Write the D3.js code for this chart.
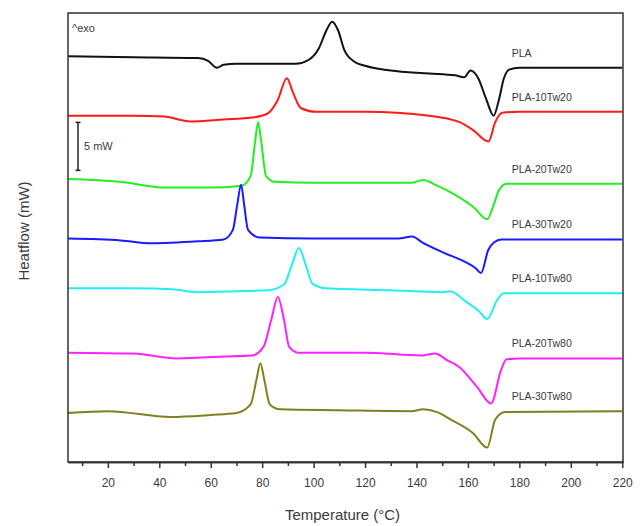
<!DOCTYPE html>
<html>
<head>
<meta charset="utf-8">
<script src="https://cdn.jsdelivr.net/npm/d3@7/dist/d3.min.js"></script>
<title>DSC curves</title>
<style>
    body { margin: 0; background: #fff; }
    text { font-family: "Liberation Sans", Arial, sans-serif; fill: #3a3a3a; }
    .curve { fill: none; stroke-width: 2; stroke-linejoin: round; }
</style>
</head>
<body>
<svg width="640" height="526"></svg>

<script>
    // sample names, top to bottom
    const sampleNames = ["PLA", "PLA-10Tw20", "PLA-20Tw20", "PLA-30Tw20", "PLA-10Tw80", "PLA-20Tw80", "PLA-30Tw80"];
    const lineColors = ["#111111", "#ff1a1a", "#22ee22", "#1a1aff", "#22f0f0", "#ff22ff", "#808020"];

    // [temperature °C, heat flow mW (curves shifted vertically)]
    const pla = [[4.5,42.3],[30,42.2],[55,42.1],[59,41.8],[62.4,41.1],[65,41.4],[70,41.5],[93,41.5],[98,41.9],[102,43.1],[105,45.0],[107.2,45.9],[109.5,45.0],[112,42.9],[116,41.7],[120,41.3],[130,40.8],[145,40.5],[155,40.3],[158.5,40.1],[161,40.8],[164,40.0],[167,37.9],[170,36.1],[172,37.7],[174,40.0],[176,40.9],[180,41.1],[220,41.1]];
    const pla10Tw20 = [[4.5,36.1],[30,36.1],[42,36.0],[52,35.5],[65,35.7],[76,35.9],[82,36.3],[86,37.7],[89.6,40.0],[92,38.5],[95,36.9],[101,36.5],[120,36.5],[145,36.1],[152,35.8],[157,35.4],[162,34.6],[168,33.4],[170.6,35.4],[173.3,36.4],[180,36.5],[220,36.5]];
    const pla20Tw20 = [[4.5,29.5],[25,29.2],[42,28.6],[60,28.6],[72,28.8],[75.5,29.8],[77.3,33.5],[78.4,35.4],[79.6,33.5],[81.5,29.8],[85,29.2],[100,29.1],[138,29.1],[142.6,29.4],[148,28.8],[154,28.0],[162,26.6],[167.5,25.3],[170,26.8],[172,28.3],[175,29.0],[220,29.0]];
    const pla30Tw20 = [[4.5,23.3],[25,23.1],[37,22.8],[55,23.0],[65,23.2],[68.6,24.2],[70.3,26.8],[71.8,28.9],[73,26.8],[74.5,24.2],[79,23.4],[100,23.3],[133,23.3],[138.3,23.5],[142.2,22.9],[150.7,21.8],[159.3,20.8],[163,20.2],[165.1,19.7],[167.9,22.1],[170.2,22.9],[173,23.2],[220,23.2]];
    const pla10Tw80 = [[4.5,18.1],[30,18.1],[45,18.0],[55,17.7],[70,17.8],[82,17.9],[88.5,18.5],[91.5,20.5],[94.3,22.3],[97,20.5],[99.5,18.6],[105,18.1],[130,17.9],[150,17.7],[153,17.8],[159.3,16.7],[164,15.8],[167.5,14.9],[171.4,16.9],[174,17.6],[220,17.6]];
    const pla20Tw80 = [[4.5,11.4],[30,11.3],[47,10.8],[65,11.0],[76,11.1],[80.5,12.0],[83.5,14.8],[86.1,17.2],[88.5,14.8],[90.5,12.0],[94,11.4],[120,11.4],[142,11.1],[147.2,11.3],[152,10.6],[156.6,9.9],[163.6,7.8],[169,6.1],[172.9,9.6],[175,10.7],[180,10.8],[220,10.8]];
    const pla30Tw80 = [[4.5,5.1],[20,5.3],[44.5,4.7],[60,4.9],[70,5.1],[75.5,6.0],[77.8,8.6],[79.3,10.3],[80.8,8.6],[83,6.0],[87,5.5],[110,5.4],[138,5.3],[142.6,5.5],[148,5.2],[153.5,4.4],[162,3.0],[167.5,1.5],[170.6,4.4],[174.5,5.2],[220,5.3]];
    const seriesValues = [pla, pla10Tw20, pla20Tw20, pla30Tw20, pla10Tw80, pla20Tw80, pla30Tw80];

    const xTicks = [20, 40, 60, 80, 100, 120, 140, 160, 180, 200, 220];
    const xMinorTicks = [10, 30, 50, 70, 90, 110, 130, 150, 170, 190, 210];
    const scaleBar = [30.4, 35.4];   // 5 mW

    const width = 640;
    const height = 526;
    const margin = {top: 13, right: 17, bottom: 64, left: 68};
    const plotW = width - margin.left - margin.right;
    const plotH = height - margin.top - margin.bottom;

    const x = d3.scaleLinear().domain([4.5, 220.3]).range([0, plotW]);
    const y = d3.scaleLinear().domain([0, 46.8]).range([plotH, 0]);

    const svg = d3.select("svg");
    const g = svg.append("g").attr("transform", `translate(${margin.left},${margin.top})`);

    // curves
    const line = d3.line()
        .x(d => x(d[0]))
        .y(d => y(d[1]))
        .curve(d3.curveMonotoneX);

    g.selectAll("path.curve")
        .data(seriesValues)
        .enter()
        .append("path")
        .attr("class", "curve")
        .attr("d", line)
        .attr("stroke", (d, i) => lineColors[i]);

    // sample labels, just above the right-hand baseline
    g.selectAll("text.name")
        .data(seriesValues)
        .enter()
        .append("text")
        .attr("class", "name")
        .attr("x", x(177))
        .attr("y", d => y(d[d.length - 1][1]) - 11)
        .attr("font-size", 10.5)
        .text((d, i) => sampleNames[i]);

    // frame
    g.append("rect")
        .attr("width", plotW)
        .attr("height", plotH)
        .attr("fill", "none")
        .attr("stroke", "#333")
        .attr("stroke-width", 1.5);

    // bottom axis: major + minor ticks
    const axisMajor = d3.axisBottom(x).tickValues(xTicks).tickSize(6).tickSizeOuter(0).tickPadding(10);
    const axisMinor = d3.axisBottom(x).tickValues(xMinorTicks).tickSize(4).tickSizeOuter(0).tickFormat("");

    const gx = g.append("g").attr("transform", `translate(0,${plotH})`).call(axisMajor);
    const gxm = g.append("g").attr("transform", `translate(0,${plotH})`).call(axisMinor);
    [gx, gxm].forEach(a => {
        a.select(".domain").attr("stroke", "#333").attr("stroke-width", 1.5);
        a.selectAll(".tick line").attr("stroke", "#333").attr("stroke-width", 1.5);
    });
    gx.selectAll(".tick text")
        .attr("font-size", 12)
        .attr("font-family", "Liberation Sans, Arial, sans-serif")
        .attr("fill", "#3a3a3a");

    // axis titles
    svg.append("text")
        .attr("x", margin.left + plotW / 2 - 3)
        .attr("y", 520)
        .attr("text-anchor", "middle")
        .attr("font-size", 15)
        .text("Temperature (°C)");

    svg.append("text")
        .attr("transform", `translate(29,231) rotate(-90)`)
        .attr("text-anchor", "middle")
        .attr("font-size", 15)
        .text("Heatflow (mW)");

    // ^exo marker
    g.append("text")
        .attr("x", 4)
        .attr("y", 19)
        .attr("font-size", 11)
        .text("^exo");

    // 5 mW scale bar
    const barX = 10;
    g.append("line")
        .attr("x1", barX).attr("x2", barX)
        .attr("y1", y(scaleBar[0])).attr("y2", y(scaleBar[1]))
        .attr("stroke", "#222").attr("stroke-width", 1.5);
    scaleBar.forEach(v => {
        g.append("line")
            .attr("x1", barX - 2.5).attr("x2", barX + 2.5)
            .attr("y1", y(v)).attr("y2", y(v))
            .attr("stroke", "#222").attr("stroke-width", 1.5);
    });
    g.append("text")
        .attr("x", barX + 6)
        .attr("y", y((scaleBar[0] + scaleBar[1]) / 2) + 4)
        .attr("font-size", 11)
        .text("5 mW");
</script>
</body>
</html>
